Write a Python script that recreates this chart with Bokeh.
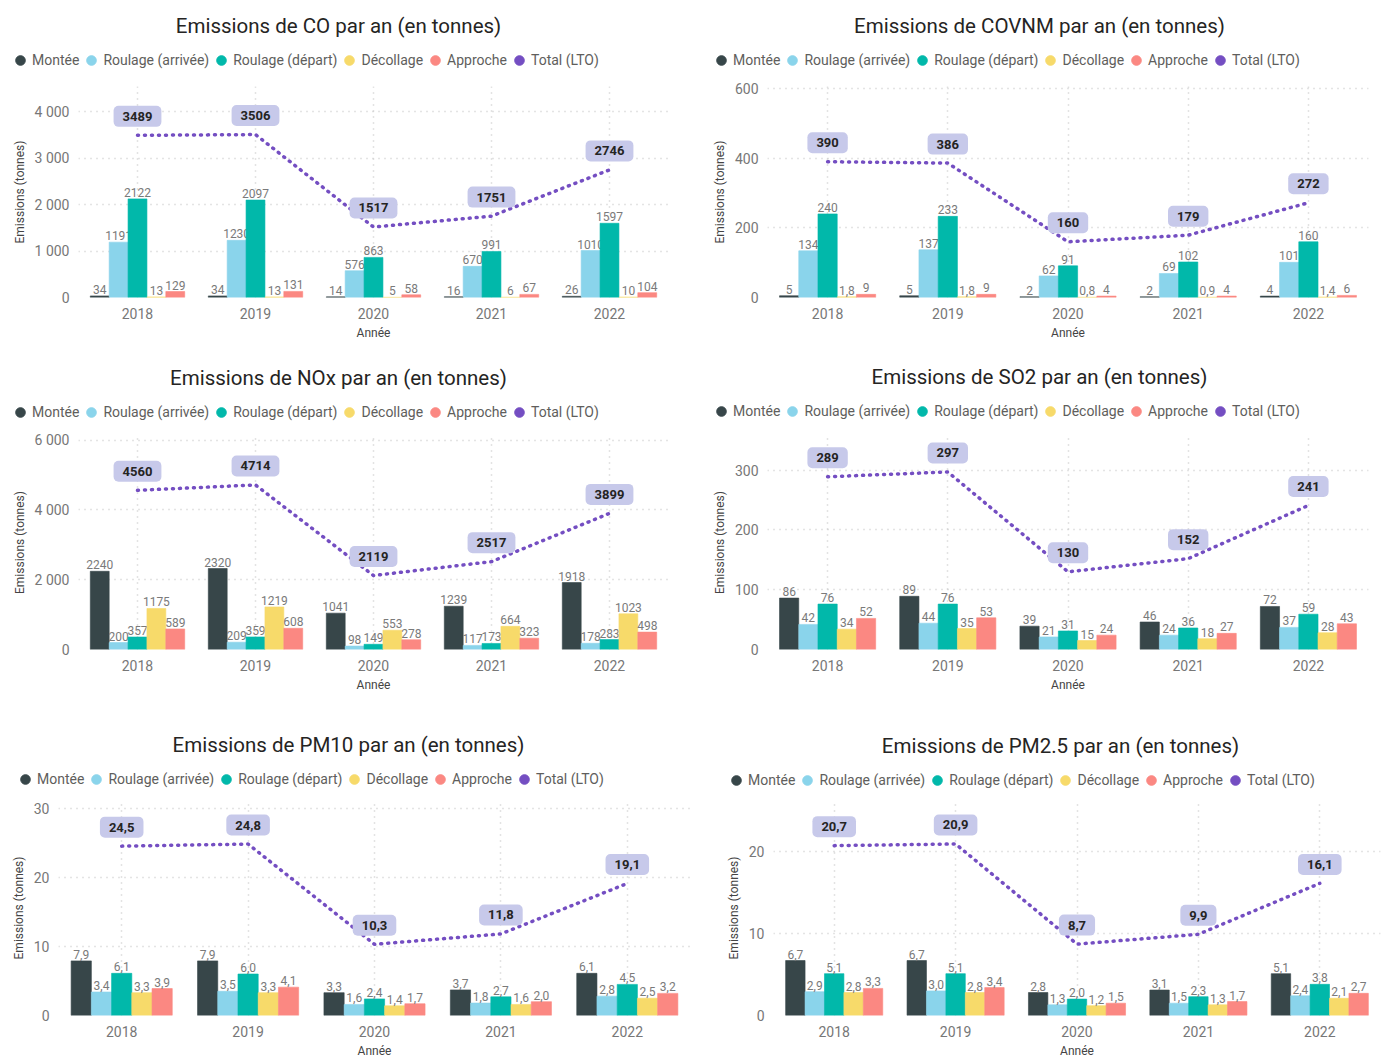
from bokeh.plotting import figure
from bokeh.models import (FactorRange, Range1d, ColumnDataSource, Legend, LegendItem,
                          FixedTicker, Label)
from bokeh.transform import dodge
from bokeh.layouts import column, row
from bokeh.core.properties import value
from bokeh.embed import file_html
from bokeh.resources import INLINE

YEARS = ["2018", "2019", "2020", "2021", "2022"]
SERIES = ["Montée", "Roulage (arrivée)", "Roulage (départ)", "Décollage", "Approche"]
TOTAL_NAME = "Total (LTO)"
COLORS = ["#374649", "#8AD4EB", "#01B8AA", "#F7DA6A", "#FB8882"]
TOTAL_COLOR = "#744EC2"

# CO
co_montee = [34, 34, 14, 16, 26]
co_roulage_arr = [1191, 1230, 576, 670, 1010]
co_roulage_dep = [2122, 2097, 863, 991, 1597]
co_decollage = [13, 13, 5, 6, 10]
co_approche = [129, 131, 58, 67, 104]
co_total = [3489, 3506, 1517, 1751, 2746]
co_ticks = [0, 1000, 2000, 3000, 4000]
co_tick_labels = ["0", "1 000", "2 000", "3 000", "4 000"]

# COVNM
covnm_montee = [5, 5, 2, 2, 4]
covnm_roulage_arr = [134, 137, 62, 69, 101]
covnm_roulage_dep = [240, 233, 91, 102, 160]
covnm_decollage = [1.8, 1.8, 0.8, 0.9, 1.4]
covnm_approche = [9, 9, 4, 4, 6]
covnm_total = [390, 386, 160, 179, 272]
covnm_ticks = [0, 200, 400, 600]
covnm_tick_labels = ["0", "200", "400", "600"]

# NOx
nox_montee = [2240, 2320, 1041, 1239, 1918]
nox_roulage_arr = [200, 209, 98, 117, 178]
nox_roulage_dep = [357, 359, 149, 173, 283]
nox_decollage = [1175, 1219, 553, 664, 1023]
nox_approche = [589, 608, 278, 323, 498]
nox_total = [4560, 4714, 2119, 2517, 3899]
nox_ticks = [0, 2000, 4000, 6000]
nox_tick_labels = ["0", "2 000", "4 000", "6 000"]

# SO2
so2_montee = [86, 89, 39, 46, 72]
so2_roulage_arr = [42, 44, 21, 24, 37]
so2_roulage_dep = [76, 76, 31, 36, 59]
so2_decollage = [34, 35, 15, 18, 28]
so2_approche = [52, 53, 24, 27, 43]
so2_total = [289, 297, 130, 152, 241]
so2_ticks = [0, 100, 200, 300]
so2_tick_labels = ["0", "100", "200", "300"]

# PM10
pm10_montee = [7.9, 7.9, 3.3, 3.7, 6.1]
pm10_roulage_arr = [3.4, 3.5, 1.6, 1.8, 2.8]
pm10_roulage_dep = [6.1, 6.0, 2.4, 2.7, 4.5]
pm10_decollage = [3.3, 3.3, 1.4, 1.6, 2.5]
pm10_approche = [3.9, 4.1, 1.7, 2.0, 3.2]
pm10_total = [24.5, 24.8, 10.3, 11.8, 19.1]
pm10_ticks = [0, 10, 20, 30]
pm10_tick_labels = ["0", "10", "20", "30"]

# PM2.5
pm25_montee = [6.7, 6.7, 2.8, 3.1, 5.1]
pm25_roulage_arr = [2.9, 3.0, 1.3, 1.5, 2.4]
pm25_roulage_dep = [5.1, 5.1, 2.0, 2.3, 3.8]
pm25_decollage = [2.8, 2.8, 1.2, 1.3, 2.1]
pm25_approche = [3.3, 3.4, 1.5, 1.7, 2.7]
pm25_total = [20.7, 20.9, 8.7, 9.9, 16.1]
pm25_ticks = [0, 10, 20]
pm25_tick_labels = ["0", "10", "20"]

FONT = "Roboto"
OFFSETS = [-0.32, -0.16, 0.0, 0.16, 0.32]
BAR_W = 0.16
LEG_BOX = 24  # legend glyph area; the circle marker is drawn at 0.4 of it


def fmt(v, one_decimal):
    if one_decimal or v != int(v):
        return f"{v:.1f}".replace(".", ",")
    return str(int(v))


def make_header(title, width, height, title_x, title_from_top, legend_x, legend_from_top):
    """Title and legend strip (pixel-unit frame filling the whole strip)."""
    h = figure(width=width, height=height, x_range=Range1d(0, width),
               y_range=Range1d(0, height), x_axis_type=None, y_axis_type=None,
               output_backend="svg", toolbar_location=None,
               min_border_left=0, min_border_right=0, min_border_top=0,
               min_border_bottom=0)
    h.frame_align = False
    h.outline_line_color = None
    h.add_layout(Label(x=title_x, y=height - title_from_top, text=title,
                       text_align="center", text_baseline="middle",
                       text_font=FONT, text_font_size="20.5px",
                       text_color="#252423"))
    items = []
    for name, color in zip(SERIES + [TOTAL_NAME], COLORS + [TOTAL_COLOR]):
        r = h.scatter(x=[-200], y=[-200], marker="circle", size=12,
                      fill_color=color, line_color=color)
        items.append(LegendItem(label=name, renderers=[r]))
    legend = Legend(items=items, orientation="horizontal",
                    location=(max(legend_x - 7, 0), height - legend_from_top - LEG_BOX // 2),
                    label_text_font=FONT, label_text_font_size="14px",
                    label_text_color="#605E5C", glyph_width=LEG_BOX,
                    glyph_height=LEG_BOX, label_standoff=0, label_height=18,
                    spacing=0, padding=0, margin=0, border_line_color=None,
                    background_fill_alpha=0)
    h.add_layout(legend, "center")
    return h


def make_chart(series_values, total, ticks, tick_labels, y_end, one_decimal,
               width, height, borders):
    b_left, b_right, b_top, b_bottom = borders
    p = figure(x_range=FactorRange(*YEARS), y_range=Range1d(0, y_end),
               width=width, height=height, output_backend="svg",
               toolbar_location=None,
               min_border_left=b_left, min_border_right=b_right,
               min_border_top=b_top, min_border_bottom=b_bottom)
    p.frame_align = False
    p.outline_line_color = None

    for vals, color, off in zip(series_values, COLORS, OFFSETS):
        src = ColumnDataSource(dict(year=YEARS, val=vals,
                                    lab=[fmt(v, one_decimal) for v in vals]))
        p.vbar(x=dodge("year", off, range=p.x_range), top="val", width=BAR_W,
               source=src, fill_color=color, line_color=color, line_alpha=0.6)
        p.text(x=dodge("year", off, range=p.x_range), y="val", text="lab",
               source=src, text_align="center", text_baseline="bottom",
               y_offset=-2, text_font=value(FONT), text_font_size="12px",
               text_color="#7A7A7A")

    tsrc = ColumnDataSource(dict(year=YEARS, val=total,
                                 lab=[fmt(v, one_decimal) for v in total]))
    p.line(x="year", y="val", source=tsrc, line_color=TOTAL_COLOR, line_width=3.5,
           line_dash="1 6", line_cap="round")
    p.text(x="year", y="val", text="lab", source=tsrc, text_align="center",
           text_baseline="middle", y_offset=-19, text_font=value(FONT),
           text_font_size="13px", text_font_style="bold", text_color="#252423",
           background_fill_color="#C7C9EA", border_line_color=None,
           padding=[9, 6], border_radius=5)

    p.yaxis.ticker = FixedTicker(ticks=ticks)
    p.yaxis.major_label_overrides = {t: l for t, l in zip(ticks, tick_labels)}
    p.yaxis.axis_label = "Emissions (tonnes)"
    p.xaxis.axis_label = "Année"
    for ax in (p.xaxis, p.yaxis):
        ax.axis_line_color = None
        ax.major_tick_line_color = None
        ax.minor_tick_line_color = None
        ax.major_label_text_font = FONT
        ax.major_label_text_font_size = "14px"
        ax.major_label_text_color = "#777777"
        ax.axis_label_text_font = FONT
        ax.axis_label_text_font_size = "12px"
        ax.axis_label_text_font_style = "normal"
        ax.axis_label_text_color = "#444444"
    p.xaxis.major_label_standoff = 4
    p.xaxis.axis_label_standoff = 4
    p.yaxis.major_label_standoff = 3
    p.yaxis.axis_label_standoff = 5
    p.ygrid.ticker = FixedTicker(ticks=ticks)
    for g in (p.xgrid, p.ygrid):
        g.grid_line_color = "#C8C8C8"
        g.grid_line_dash = "1 5"
        g.grid_line_width = 1.5
    return p


def series(a, b, c, d, e):
    return [a, b, c, d, e]


co = column(
    make_header("Emissions de CO par an (en tonnes)", 709, 78, 338, 25, 15, 60),
    make_chart(series(co_montee, co_roulage_arr, co_roulage_dep, co_decollage, co_approche),
               co_total, co_ticks, co_tick_labels, 4540, False,
               709, 277, (78, 41, 8, 58)))
covnm = column(
    make_header("Emissions de COVNM par an (en tonnes)", 676, 78, 330, 25, 7, 60),
    make_chart(series(covnm_montee, covnm_roulage_arr, covnm_roulage_dep, covnm_decollage, covnm_approche),
               covnm_total, covnm_ticks, covnm_tick_labels, 606, False,
               676, 277, (56, 17, 8, 58)))
nox = column(
    make_header("Emissions de NOx par an (en tonnes)", 709, 72, 338, 22, 15, 57),
    make_chart(series(nox_montee, nox_roulage_arr, nox_roulage_dep, nox_decollage, nox_approche),
               nox_total, nox_ticks, nox_tick_labels, 6130, False,
               709, 283, (78, 41, 8, 61)))
so2 = column(
    make_header("Emissions de SO2 par an (en tonnes)", 676, 72, 330, 21, 7, 56),
    make_chart(series(so2_montee, so2_roulage_arr, so2_roulage_dep, so2_decollage, so2_approche),
               so2_total, so2_ticks, so2_tick_labels, 358, False,
               676, 283, (56, 17, 8, 61)))
pm10 = column(
    make_header("Emissions de PM10 par an (en tonnes)", 723, 82, 348, 34, 20, 69),
    make_chart(series(pm10_montee, pm10_roulage_arr, pm10_roulage_dep, pm10_decollage, pm10_approche),
               pm10_total, pm10_ticks, pm10_tick_labels, 31.1, True,
               723, 268, (58, 33, 8, 39)))
pm25 = column(
    make_header("Emissions de PM2.5 par an (en tonnes)", 662, 82, 337, 35, 8, 70),
    make_chart(series(pm25_montee, pm25_roulage_arr, pm25_roulage_dep, pm25_decollage, pm25_approche),
               pm25_total, pm25_ticks, pm25_tick_labels, 26.2, True,
               662, 268, (47, 5, 8, 39)))

layout = column(row(co, covnm), row(nox, so2), row(pm10, pm25))
open("out.html", "w").write(file_html(layout, INLINE))
